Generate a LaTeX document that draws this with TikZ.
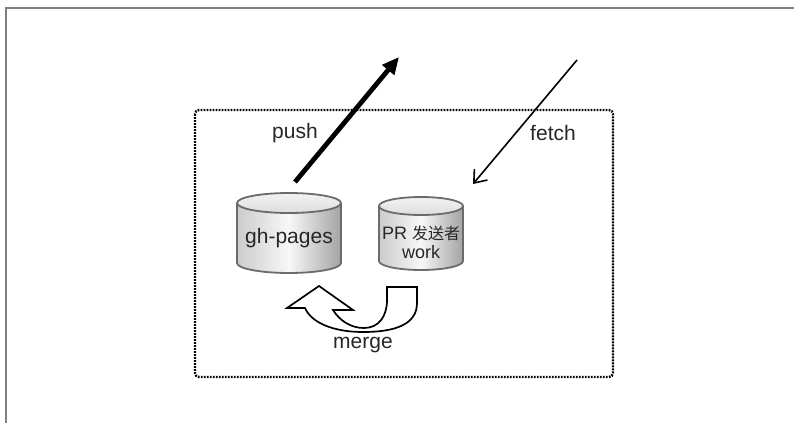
\documentclass[tikz,border=0pt]{standalone}
\usepackage{fontspec}
\setmainfont{Liberation Sans}
\newfontfamily\cjk{Noto Sans CJK SC}
\usetikzlibrary{arrows.meta}
\begin{document}
\begin{tikzpicture}[x=1pt,y=1pt,
  pageedge/.style={draw=black!50, line width=1.5pt},
  frame/.style={draw=black, line width=2.4pt, dash pattern=on 1.8pt off 1.2pt, rounded corners=4pt},
  cylbody/.style={left color=black!20, right color=black!36, middle color=black!3},
  cyltop/.style={top color=black!5, bottom color=black!13},
  cylline/.style={draw=black!58, line width=1.8pt},
  lbl/.style={text=black!85, font=\fontsize{21}{24}\selectfont, inner sep=0pt},
  pusharrow/.style={line width=4.8pt, -{Triangle[length=17pt,width=15pt]}},
  fetcharrow/.style={line width=1.6pt, -{Straight Barb[length=11pt,width=17pt]}},
  mergearrow/.style={draw=black, fill=white, line width=1.7pt, line join=miter}
]
\useasboundingbox (0,0) rectangle (794,-423);
% page edge
\draw[pageedge] (6,-423) -- (6,-8) -- (794,-8);
% dotted frame
\draw[frame] (195,-110) rectangle (613,-377);

% gh-pages cylinder
\shade[cylbody] (237,-203) -- (237,-263) arc[start angle=180,end angle=360,x radius=52,y radius=10] -- (341,-203) arc[start angle=0,end angle=-180,x radius=52,y radius=10] -- cycle;
\draw[cylline] (237,-203) -- (237,-263) arc[start angle=180,end angle=360,x radius=52,y radius=10] -- (341,-203);
\shade[cyltop] (289,-203) ellipse[x radius=52, y radius=10];
\draw[cylline] (289,-203) ellipse[x radius=52, y radius=10];
\node[lbl] (gh) at (289,-238) {gh-pages};

% PR cylinder
\shade[cylbody] (379,-206) -- (379,-261) arc[start angle=180,end angle=360,x radius=42,y radius=9] -- (463,-206) arc[start angle=0,end angle=-180,x radius=42,y radius=9] -- cycle;
\draw[cylline] (379,-206) -- (379,-261) arc[start angle=180,end angle=360,x radius=42,y radius=9] -- (463,-206);
\shade[cyltop] (421,-206) ellipse[x radius=42, y radius=9];
\draw[cylline] (421,-206) ellipse[x radius=42, y radius=9];
\node[lbl, align=center, font=\fontsize{18}{19}\selectfont] (pr) at (421,-242) {PR {\cjk\fontsize{16}{19}\selectfont 发送者}\\work};

% push
\coordinate (pushs) at (295,-182);
\coordinate (pushe) at (399,-57);
\draw[pusharrow] (pushs) -- (pushe);
\node[lbl] (pushl) at (295,-133) {push};

% fetch
\coordinate (fetchs) at (577,-60);
\coordinate (fetche) at (473,-184);
\draw[fetcharrow] (fetchs) -- (fetche);
\node[lbl] (fetchl) at (553,-133) {fetch};

% merge arrow
\draw[mergearrow] (387,-287) -- (417,-287) -- (417,-303)
  .. controls (417,-324) and (396,-332) .. (363,-332)
  .. controls (332,-332) and (311,-322) .. (305,-308)
  -- (287,-308) -- (319,-286) -- (353,-310) -- (333,-310)
  .. controls (340,-321) and (351,-328) .. (364,-328)
  .. controls (379,-328) and (387,-316) .. (387,-300) -- cycle;
\node[lbl] (mergel) at (363,-345) {merge};
\end{tikzpicture}
\end{document}
